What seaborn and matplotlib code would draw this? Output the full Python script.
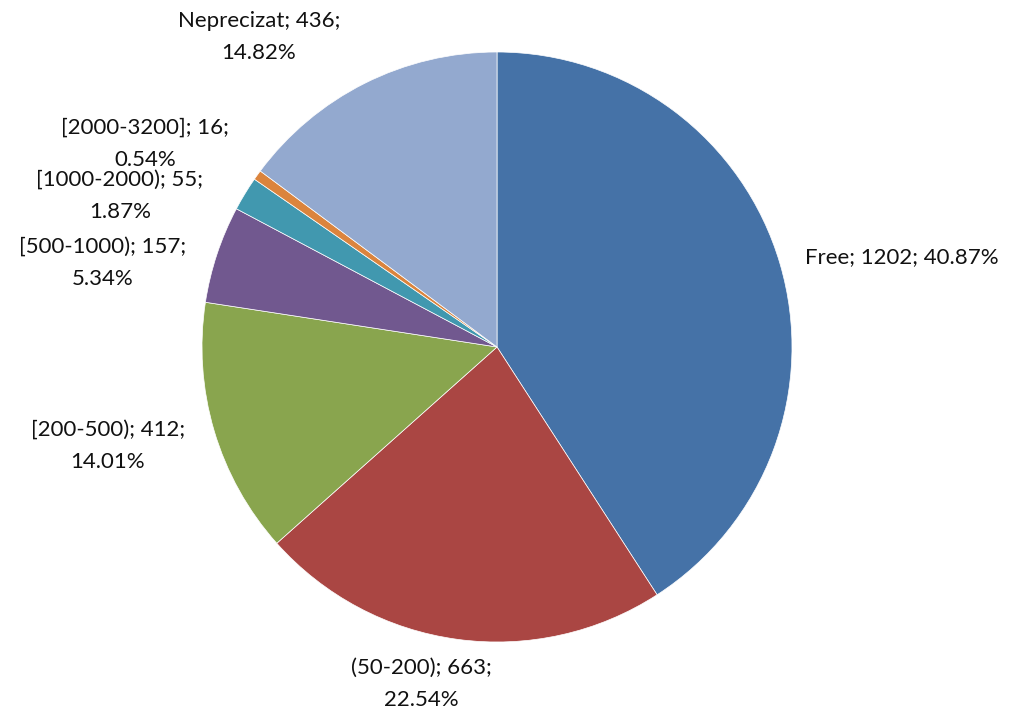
import matplotlib
matplotlib.use("Agg")
import matplotlib.pyplot as plt
import seaborn as sns

categorii = ["Free", "(50-200)", "[200-500)", "[500-1000)", "[1000-2000)", "[2000-3200]", "Neprecizat"]
valori = [1202, 663, 412, 157, 55, 16, 436]
culori = ["#4572A7", "#AA4643", "#89A54E", "#71588F", "#4198AF", "#DB843D", "#93A9CF"]

# pozitii etichete (pixeli, y de sus)
pos_etichete = [(805, 257), (421, 684), (108, 446), (103, 263), (120, 196), (145, 144), (259, 37)]

sns.set_theme(style="white")
plt.rcParams["font.family"] = ["Lato", "DejaVu Sans"]

fig = plt.figure(figsize=(10.15, 7.10), dpi=100)
ax = fig.add_axes([0, 0, 1, 1])

ax.pie(valori, colors=culori, startangle=90, counterclock=False,
       center=(497, 710 - 347), radius=295, frame=True,
       wedgeprops=dict(linewidth=0.5, edgecolor="white"))
ax.set_xlim(0, 1015)
ax.set_ylim(0, 710)
ax.set_aspect("equal")
ax.axis("off")

total = sum(valori)
for cat, v, (x, y) in zip(categorii, valori, pos_etichete):
    pct = 100 * v / total
    if cat == "Free":
        ax.text(x, 710 - y, f"{cat}; {v}; {pct:.2f}%", ha="left", va="center",
                fontsize=16, color="#111111")
    else:
        ax.text(x, 710 - y, f"{cat}; {v};\n{pct:.2f}%", ha="center", va="center",
                fontsize=16, color="#111111", linespacing=1.75)

fig.savefig("out.png", dpi=100)
